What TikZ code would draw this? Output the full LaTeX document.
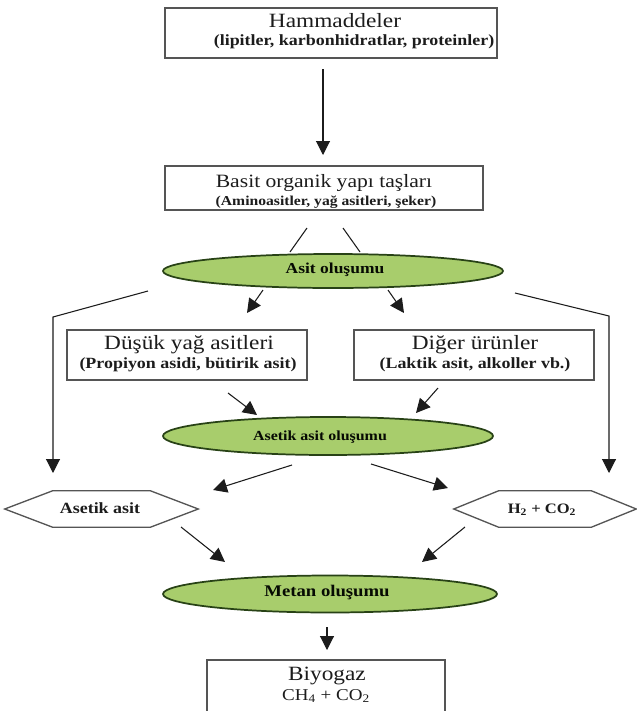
\documentclass[tikz,border=0pt]{standalone}
\usepackage{fontspec}
\setmainfont{Liberation Serif}[FakeStretch=1.15]
\usetikzlibrary{shapes.geometric,arrows.meta}
\newdimen\pxu
\pxu=0.75pt
\definecolor{ink}{HTML}{1C1C1C}
\definecolor{boxline}{HTML}{555555}
\definecolor{ovalfill}{RGB}{168,205,108}
\definecolor{ovalline}{RGB}{40,66,22}
\tikzset{
  box/.style={draw=boxline, line width=1pt, fill=white, inner sep=0pt},
  oval/.style={ellipse, draw=ovalline, line width=1.3pt, fill=ovalfill, inner sep=0pt},
  hexline/.style={draw=boxline, line width=1pt, line join=miter},
  lbl/.style={inner sep=0pt, text=ink},
  ttl/.style={lbl, font=\fontsize{15.2}{17}\selectfont},
  sub/.style={lbl, font=\bfseries\fontsize{11.7}{13}\selectfont},
  olbl/.style={lbl, text=black!85!ovalline, font=\bfseries\fontsize{11.4}{13}\selectfont},
  arr/.style={draw=ink, line width=0.8pt, -{Triangle[length=10.5pt,width=10.5pt]}},
  link/.style={draw=ink, line width=0.8pt},
}
\begin{document}
\begin{tikzpicture}[x=0.75pt, y=-0.75pt]
\useasboundingbox (0,0) rectangle (636,711);

% boxes
\node[box, minimum width=332\pxu, minimum height=50\pxu] (raw) at (331,33) {};
\node[ttl] (rawT) at (335,21) {Hammaddeler};
\node[sub] (rawS) at (354,42) {(lipitler, karbonhidratlar, proteinler)};

\node[box, minimum width=318\pxu, minimum height=44\pxu] (bas) at (324,188) {};
\node[ttl, font=\fontsize{14.1}{16}\selectfont] (basT) at (324,183) {Basit organik yapı taşları};
\node[sub, font=\bfseries\fontsize{10.2}{12}\selectfont] (basS) at (326,202) {(Aminoasitler, yağ asitleri, şeker)};

\node[box, minimum width=240\pxu, minimum height=50\pxu] (dus) at (187,355) {};
\node[ttl] (dusT) at (189,345) {Düşük yağ asitleri};
\node[sub] (dusS) at (188,365) {(Propiyon asidi, bütirik asit)};

\node[box, minimum width=240\pxu, minimum height=50\pxu] (dig) at (474,355) {};
\node[ttl] (digT) at (475,345) {Diğer ürünler};
\node[sub] (digS) at (475,365) {(Laktik asit, alkoller vb.)};

\node[box, minimum width=238\pxu, minimum height=54\pxu] (bio) at (326,687) {};
\node[ttl] (bioT) at (327,676) {Biyogaz};
\node[lbl, font=\fontsize{12.4}{14}\selectfont] (bioS) at (326,696) {CH\textsubscript{4} + CO\textsubscript{2}};

% ellipses
\node[oval, minimum width=340\pxu, minimum height=34\pxu] (e1) at (333,271) {};
\node[olbl] (e1T) at (335,270) {Asit oluşumu};
\node[oval, minimum width=330\pxu, minimum height=38\pxu] (e2) at (328,436) {};
\node[olbl, font=\bfseries\fontsize{10.4}{12}\selectfont] (e2T) at (320,437) {Asetik asit oluşumu};
\node[oval, minimum width=334\pxu, minimum height=37\pxu] (e3) at (330,594) {};
\node[olbl, font=\bfseries\fontsize{12.2}{14}\selectfont] (e3T) at (327,593) {Metan oluşumu};

% hexagons
\node[lbl, minimum width=193\pxu, minimum height=36\pxu] (hexA) at (101.5,509) {};
\draw[hexline] (hexA.west) -- ([xshift=48\pxu]hexA.north west) -- ([xshift=-48\pxu]hexA.north east)
  -- (hexA.east) -- ([xshift=-48\pxu]hexA.south east) -- ([xshift=48\pxu]hexA.south west) -- cycle;
\node[sub] (hexAT) at (100,508) {Asetik asit};

\node[lbl, minimum width=182\pxu, minimum height=36\pxu] (hexH) at (545,509) {};
\draw[hexline] (hexH.west) -- ([xshift=45\pxu]hexH.north west) -- ([xshift=-45\pxu]hexH.north east)
  -- (hexH.east) -- ([xshift=-45\pxu]hexH.south east) -- ([xshift=45\pxu]hexH.south west) -- cycle;
\node[sub, font=\bfseries\fontsize{10.8}{12}\selectfont] (hexHT) at (542,510) {H\textsubscript{2} + CO\textsubscript{2}};

% connector end points
\coordinate (a1s) at (323,69);   \coordinate (a1t) at (323,155);
\coordinate (l1s) at (307,228);  \coordinate (l1t) at (290,252);
\coordinate (l2s) at (343,228);  \coordinate (l2t) at (360,252);
\coordinate (c1s) at (263,290);  \coordinate (c1t) at (247,313);
\coordinate (c2s) at (388,290);  \coordinate (c2t) at (404,313);
\coordinate (ls) at (148,291);   \coordinate (lk) at (53,317);   \coordinate (lt) at (53,473);
\coordinate (rs) at (515,293);   \coordinate (rk) at (609,316);  \coordinate (rt) at (609,473);
\coordinate (d1s) at (228,393);  \coordinate (d1t) at (257,415);
\coordinate (d2s) at (438,388);  \coordinate (d2t) at (416,413);
\coordinate (f1s) at (292,465);  \coordinate (f1t) at (213,490);
\coordinate (f2s) at (371,464);  \coordinate (f2t) at (448,488);
\coordinate (g1s) at (181,527);  \coordinate (g1t) at (225,562);
\coordinate (g2s) at (465,527);  \coordinate (g2t) at (422,562);
\coordinate (h1s) at (327,627);  \coordinate (h1t) at (327,650);

% connectors
\draw[arr] (a1s) -- (a1t);
\draw[link] (l1s) -- (l1t);
\draw[link] (l2s) -- (l2t);
\draw[arr] (c1s) -- (c1t);
\draw[arr] (c2s) -- (c2t);
\draw[arr] (ls) -- (lk) -- (lt);
\draw[arr] (rs) -- (rk) -- (rt);
\draw[arr] (d1s) -- (d1t);
\draw[arr] (d2s) -- (d2t);
\draw[arr] (f1s) -- (f1t);
\draw[arr] (f2s) -- (f2t);
\draw[arr] (g1s) -- (g1t);
\draw[arr] (g2s) -- (g2t);
\draw[arr] (h1s) -- (h1t);
\end{tikzpicture}
\end{document}
